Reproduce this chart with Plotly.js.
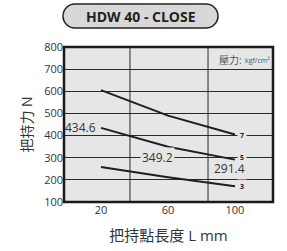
<!DOCTYPE html>
<html><head><meta charset="utf-8">
<script src="https://cdn.plot.ly/plotly-3.0.1.min.js"></script>
<style>html,body{margin:0;padding:0;background:#fff;}</style>
</head><body><div id="chart" style="width:287px;height:251px;"></div>
<script>
const lengths = [20, 60, 100];
const series7 = [605, 490, 405];
const series5 = [434.6, 349.2, 291.4];
const series3 = [258, 212, 171];
const seriesNames = ['7', '5', '3'];
const xTicks = [20, 60, 100];
const yTicks = [100, 200, 300, 400, 500, 600, 700, 800];

const FONT = '"Open Sans", "Noto Sans CJK TC", sans-serif';
const BG = '#e6e6e7';
const lineStyle = {color: '#1e1e1e', width: 2};
const traces = [series7, series5, series3].map((ys, i) => ({
  x: lengths, y: ys, type: 'scatter', mode: 'lines', name: seriesNames[i],
  line: lineStyle, hoverinfo: 'none', showlegend: false
}));

// plot area geometry (px)
const W = 287, H = 251, L = 64, R = 14, T = 47, B = 49;
const pw = W - L - R, ph = H - T - B;
const px = v => (v - L) / pw;
const py = v => (H - B - v) / ph;

// rounded pill path for title
function pill(x0, x1, y0, y1) {
  const r = (y1 - y0) / 2;
  const k = 0.5523 * r;
  const P = (x, y) => px(x).toFixed(4) + ',' + py(y).toFixed(4);
  return 'M' + P(x0 + r, y0) + ' L' + P(x1 - r, y0) +
    ' C' + P(x1 - r + k, y0) + ' ' + P(x1, y0 + r - k) + ' ' + P(x1, y0 + r) +
    ' C' + P(x1, y0 + r + k) + ' ' + P(x1 - r + k, y1) + ' ' + P(x1 - r, y1) +
    ' L' + P(x0 + r, y1) +
    ' C' + P(x0 + r - k, y1) + ' ' + P(x0, y0 + r + k) + ' ' + P(x0, y0 + r) +
    ' C' + P(x0, y0 + r - k) + ' ' + P(x0 + r - k, y0) + ' ' + P(x0 + r, y0) + ' Z';
}

const small = {family: FONT, size: 7, color: '#222', weight: 'bold'};
const mid = {family: FONT, size: 12, color: '#333'};
const A = (o) => Object.assign({showarrow: false, xanchor: 'center', yanchor: 'middle'}, o);

const layout = {
  width: W, height: H,
  margin: {l: L, r: R, t: T, b: B, pad: 0},
  paper_bgcolor: '#ffffff', plot_bgcolor: BG,
  font: {family: FONT, size: 11, color: '#333'},
  xaxis: {
    range: [-2.1, 122.7], tickvals: xTicks, ticktext: xTicks.map(String),
    showgrid: false, zeroline: false, showline: false, ticks: '', ticklen: 0,
    tickfont: {family: FONT, size: 11, color: '#333'},
    title: {text: '把持點長度 L mm', font: {family: FONT, size: 15, color: '#333'}, standoff: 14},
    fixedrange: true
  },
  yaxis: {
    range: [100, 800], tickvals: yTicks, showgrid: true, gridcolor: '#2a2a2a', gridwidth: 1,
    zeroline: false, showline: false, ticks: '', ticklen: 0,
    tickfont: {family: FONT, size: 11, color: '#333'},
    title: {text: '把持力 N', font: {family: FONT, size: 14, color: '#333'}, standoff: 8},
    fixedrange: true
  },
  shapes: [
    {type: 'line', xref: 'x', yref: 'paper', x0: 37.3, x1: 37.3, y0: 0, y1: 1, line: {color: '#2a2a2a', width: 1}, layer: 'below'},
    {type: 'line', xref: 'x', yref: 'paper', x0: 83.9, x1: 83.9, y0: 0, y1: 1, line: {color: '#2a2a2a', width: 1}, layer: 'below'},
    {type: 'rect', xref: 'paper', yref: 'paper', x0: 0, x1: 1, y0: 0, y1: 1, line: {color: '#1a1a1a', width: 2.5}},
    {type: 'path', xref: 'paper', yref: 'paper', path: pill(63, 218, 4, 28), fillcolor: '#d8d8d8', line: {color: '#222', width: 1.5}, layer: 'below'}
  ],
  annotations: [
    A({xref: 'paper', yref: 'paper', x: px(141), y: py(16), text: '<b>HDW 40 - CLOSE</b>',
       font: {family: FONT, size: 14, color: '#222'}}),
    A({xref: 'paper', yref: 'paper', x: px(230), y: py(60), text: '壓力:',
       font: {family: FONT, size: 10, color: '#555'}}),
    A({xref: 'paper', yref: 'paper', x: px(257), y: py(60), text: 'kgf/cm²',
       font: {family: FONT, size: 7, color: '#555'}}),
    A({xref: 'x', yref: 'y', x: 8, y: series5[0], text: String(series5[0]), font: mid}),
    A({xref: 'x', yref: 'y', x: 54, y: 300, text: String(series5[1]), font: mid, bgcolor: BG, borderpad: 1}),
    A({xref: 'x', yref: 'y', x: 97, y: 253, text: String(series5[2]), font: mid}),
    A({xref: 'x', yref: 'y', x: 104.3, y: 400, text: '<b>' + seriesNames[0] + '</b>', font: small, bgcolor: BG, borderpad: 2}),
    A({xref: 'x', yref: 'y', x: 104.3, y: 300, text: '<b>' + seriesNames[1] + '</b>', font: small, bgcolor: BG, borderpad: 2}),
    A({xref: 'x', yref: 'y', x: 104.3, y: 168, text: '<b>' + seriesNames[2] + '</b>', font: small, bgcolor: BG, borderpad: 2})
  ]
};

Plotly.newPlot('chart', traces, layout, {displayModeBar: false, staticPlot: true});
</script>
</body></html>
